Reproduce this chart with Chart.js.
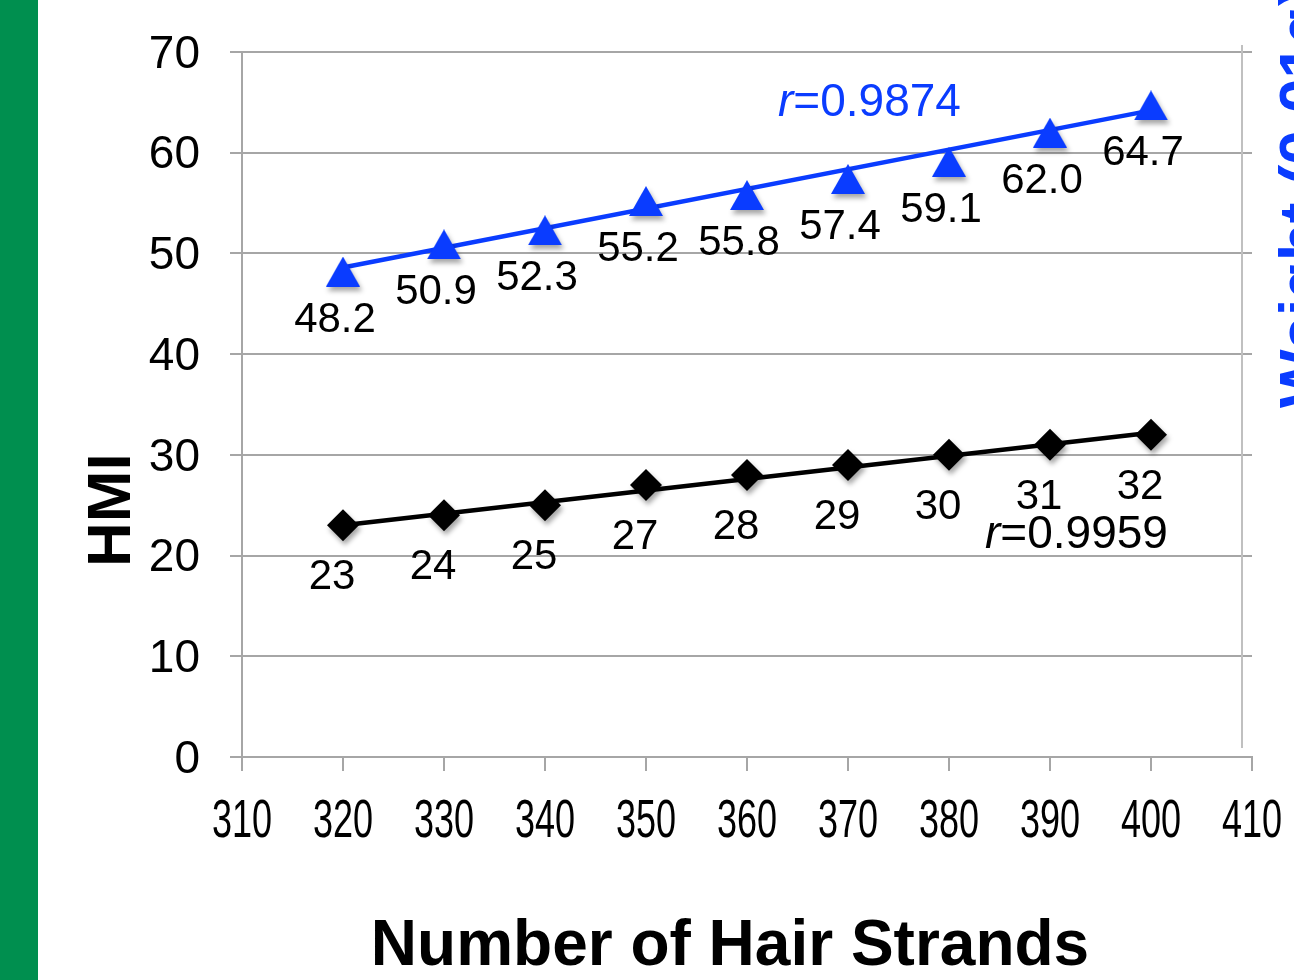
<!DOCTYPE html>
<html>
<head>
<meta charset="utf-8">
<script src="https://cdn.jsdelivr.net/npm/chart.js@4.4.1/dist/chart.umd.min.js"></script>
<style>
    body { margin: 0; overflow: hidden; background: #fff; }
    .side { position: absolute; left: 0; top: 0; width: 38px; height: 980px; background: #008f4f; }
    canvas { position: absolute; left: 0; top: 0; }
</style>
</head>
<body>
<div class="side"></div>
<canvas id="hair-chart" width="1294" height="980"></canvas>
<script>
const strands = [320, 330, 340, 350, 360, 370, 380, 390, 400]
const weight = [48.2, 50.9, 52.3, 55.2, 55.8, 57.4, 59.1, 62.0, 64.7]
const hmi = [23, 24, 25, 27, 28, 29, 30, 31, 32]
const weightLabels = ['48.2', '50.9', '52.3', '55.2', '55.8', '57.4', '59.1', '62.0', '64.7']

// trend lines, end points
const fitX = [320, 400]
const weightFit = [48.6, 64.2]
const hmiFit = [23.0, 32.2]

const xRange = [310, 410]
const yRange = [0, 70]

const BLUE = '#0a3cff'
const GRID = '#a6a6a6'
const SANS = '"Liberation Sans", Arial, Helvetica, sans-serif'

const toPoints = (xs, ys) => xs.map((x, i) => ({ x: x, y: ys[i] }))

// triangle marker centred on its box, like the office chart
const triangleMarker = (() => {
    const c = document.createElement('canvas')
    c.width = 34
    c.height = 30
    const g = c.getContext('2d')
    g.fillStyle = BLUE
    g.beginPath()
    g.moveTo(17, 0)
    g.lineTo(34, 30)
    g.lineTo(0, 30)
    g.closePath()
    g.fill()
    return c
})()

const shadowPlugin = {
    id: 'shadow',
    beforeDatasetDraw(chart, args) {
        if (!chart.data.datasets[args.index].shadow) return
        const ctx = chart.ctx
        ctx.save()
        ctx.shadowColor = 'rgba(0,0,0,0.35)'
        ctx.shadowBlur = 5
        ctx.shadowOffsetX = 2
        ctx.shadowOffsetY = 4
    },
    afterDatasetDraw(chart, args) {
        if (!chart.data.datasets[args.index].shadow) return
        chart.ctx.restore()
    }
}

const extrasPlugin = {
    id: 'extras',
    afterDatasetsDraw(chart) {
        const ctx = chart.ctx
        const x = chart.scales.x
        const y = chart.scales.y
        const area = chart.chartArea

        ctx.save()
        // secondary axis line
        ctx.strokeStyle = '#c0c0c0'
        ctx.lineWidth = 2
        ctx.beginPath()
        ctx.moveTo(area.right - 10, area.top - 7)
        ctx.lineTo(area.right - 10, area.bottom - 9)
        ctx.stroke()

        // condensed x tick labels
        ctx.fillStyle = '#000'
        ctx.font = '53px ' + SANS
        ctx.textAlign = 'center'
        ctx.textBaseline = 'alphabetic'
        x.ticks.forEach(t => {
            ctx.save()
            ctx.translate(x.getPixelForValue(t.value), 837)
            ctx.scale(0.68, 1)
            ctx.fillText(String(t.value), 0, 0)
            ctx.restore()
        })

        // point labels
        ctx.font = '42px ' + SANS
        strands.forEach((s, i) => {
            ctx.fillText(weightLabels[i], x.getPixelForValue(s) - 8, y.getPixelForValue(weight[i]) + 60)
            ctx.fillText(String(hmi[i]), x.getPixelForValue(s) - 11, y.getPixelForValue(hmi[i]) + 64)
        })

        // r values
        const drawR = (txt, px, py, color) => {
            ctx.textAlign = 'left'
            ctx.fillStyle = color
            ctx.font = 'italic 46px ' + SANS
            ctx.fillText('r', px, py)
            const w = ctx.measureText('r').width
            ctx.font = '46px ' + SANS
            ctx.fillText(txt, px + w, py)
        }
        drawR('=0.9874', 778, 116, BLUE)
        drawR('=0.9959', 985, 548, '#000')

        // axis titles
        ctx.fillStyle = '#000'
        ctx.font = 'bold 64px ' + SANS
        ctx.textAlign = 'center'
        ctx.fillText('Number of Hair Strands', 730, 965)

        ctx.textAlign = 'left'
        ctx.font = 'bold 62px ' + SANS
        ctx.translate(130, 567)
        ctx.rotate(-Math.PI / 2)
        ctx.fillText('HMI', 0, 0)
        ctx.restore()

        ctx.save()
        ctx.fillStyle = BLUE
        ctx.font = 'bold 62px ' + SANS
        ctx.textAlign = 'left'
        ctx.translate(1322, 408)
        ctx.rotate(-Math.PI / 2)
        ctx.fillText('Weight (0.01g)', 0, 0)
        ctx.restore()
    }
}

new Chart(document.getElementById('hair-chart'), {
    type: 'scatter',
    data: {
        datasets: [{
            data: toPoints(strands, weight),
            pointStyle: triangleMarker,
            pointRadius: 17,
            pointHoverRadius: 17,
            backgroundColor: BLUE,
            borderColor: BLUE,
            borderWidth: 0,
            shadow: true,
            order: 1
        }, {
            data: toPoints(strands, hmi),
            pointStyle: 'rectRot',
            pointRadius: 16,
            pointHoverRadius: 16,
            backgroundColor: '#000',
            borderColor: '#000',
            borderWidth: 0,
            shadow: true,
            order: 1
        }, {
            data: toPoints(fitX, weightFit),
            showLine: true,
            borderColor: BLUE,
            borderWidth: 4.5,
            pointRadius: 0,
            order: 2
        }, {
            data: toPoints(fitX, hmiFit),
            showLine: true,
            borderColor: '#000',
            borderWidth: 4.5,
            pointRadius: 0,
            order: 2
        }]
    },
    options: {
        responsive: false,
        animation: false,
        events: [],
        layout: { padding: { left: 0, top: 52, right: 42, bottom: 0 } },
        plugins: {
            legend: { display: false },
            tooltip: { enabled: false }
        },
        scales: {
            x: {
                type: 'linear',
                min: xRange[0],
                max: xRange[1],
                afterFit: s => { s.height = 223 },
                ticks: { stepSize: 10, display: false },
                grid: { drawOnChartArea: false, tickLength: 14, color: GRID, lineWidth: 2 },
                border: { color: GRID, width: 2 }
            },
            y: {
                min: yRange[0],
                max: yRange[1],
                afterFit: s => { s.width = 242; s.paddingTop = 0; s.paddingBottom = 0 },
                ticks: {
                    stepSize: 10,
                    color: '#000',
                    padding: 30,
                    labelOffset: 3,
                    font: { family: SANS, size: 46 }
                },
                grid: { tickLength: 12, color: GRID, lineWidth: 2 },
                border: { color: GRID, width: 2 }
            }
        }
    },
    plugins: [shadowPlugin, extrasPlugin]
})
</script>
</body>
</html>
